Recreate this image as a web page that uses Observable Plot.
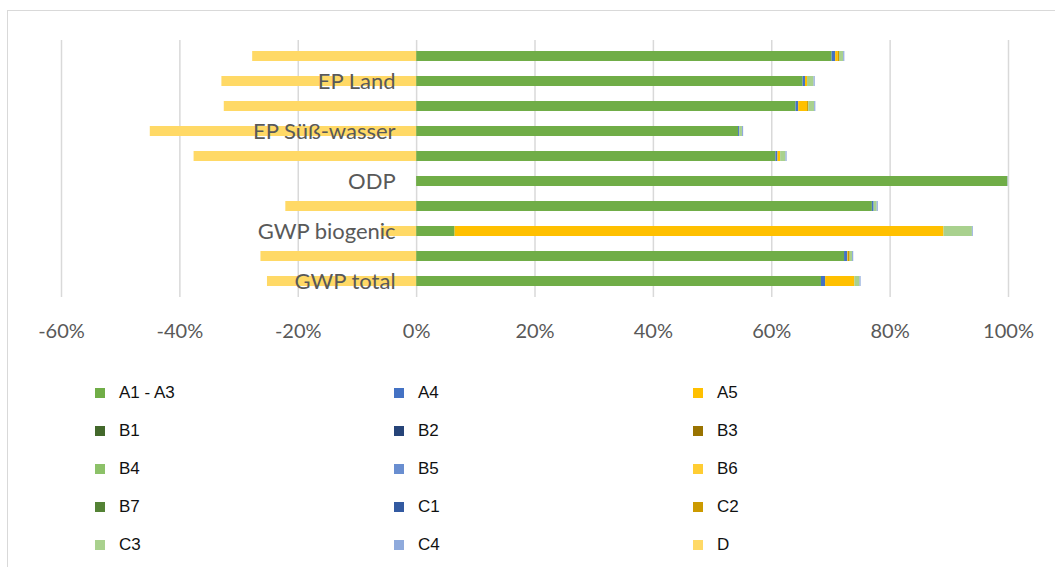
<!DOCTYPE html>
<html>
<head>
<meta charset="utf-8">
<script src="https://cdn.jsdelivr.net/npm/d3@7"></script>
<script src="https://cdn.jsdelivr.net/npm/@observablehq/plot@0.6"></script>
<style>
  html, body { margin: 0; padding: 0; background: #fff; }
  #wrap { position: relative; width: 1055px; height: 567px; overflow: hidden; }
  #frame { position: absolute; left: 7px; top: 10px; width: 1200px; height: 700px;
           border-left: 1.5px solid #d9d9d9; border-top: 1.5px solid #d9d9d9; pointer-events: none; }
  #chart { position: absolute; left: 0; top: 0; }
  #legend { position: absolute; left: 95px; top: 374px; display: grid;
            grid-template-columns: 299px 299px 299px; grid-auto-rows: 38px;
            font-family: "Liberation Sans", Arial, sans-serif; font-size: 17px; color: #111; }
  .item { display: flex; align-items: center; }
  .sw { width: 10px; height: 10px; margin-right: 14px; flex: none; }
</style>
</head>
<body>
<div id="wrap">
  <div id="frame"></div>
  <div id="chart"></div>
  <div id="legend"></div>
</div>
<script>
// Categories, top to bottom
const categories = ["POCP", "EP Land", "EP Meer", "EP Süß-wasser", "AP", "ODP", "GWP luluc", "GWP biogenic", "GWP fossil", "GWP total"];
// Labels visible on the chart (alternate labels hidden, as in the reference)
const categoryLabels = ["", "EP Land", "", "EP Süß-wasser", "", "ODP", "", "GWP biogenic", "", "GWP total"];

const seriesNames = ["A1 - A3", "A4", "A5", "B1", "B2", "B3", "B4", "B5", "B6", "B7", "C1", "C2", "C3", "C4", "D"];
const seriesColors = ["#70AD47", "#4472C4", "#FFC000", "#43682B", "#264478", "#997300", "#8CC168", "#698ED0", "#FFCD33", "#548235", "#335AA1", "#CC9A00", "#A9D18E", "#8FAADC", "#FFD966"];

// Values in percent, one per category (same order as categories)
const vA1A3 = [70.2, 65.3, 64.1, 54.4, 60.7, 99.9, 77.0, 6.5, 72.3, 68.4];
const vA4   = [0.6, 0.4, 0.45, 0.2, 0.35, 0, 0.3, 0, 0.55, 0.7];
const vA5   = [0.45, 0.35, 1.5, 0, 0.45, 0, 0, 82.6, 0.1, 4.9];
const vB1   = [0, 0, 0, 0, 0, 0, 0, 0, 0, 0];
const vB2   = [0, 0, 0, 0, 0, 0, 0, 0, 0, 0];
const vB3   = [0, 0, 0, 0, 0, 0, 0, 0, 0, 0];
const vB4   = [0, 0, 0, 0, 0, 0, 0, 0, 0, 0];
const vB5   = [0, 0, 0, 0, 0, 0, 0, 0, 0, 0];
const vB6   = [0, 0, 0, 0, 0, 0, 0, 0, 0, 0];
const vB7   = [0, 0, 0, 0, 0, 0, 0, 0, 0, 0];
const vC1   = [0, 0, 0, 0, 0, 0, 0, 0, 0, 0];
const vC2   = [0.2, 0, 0.2, 0, 0, 0, 0, 0, 0.3, 0.05];
const vC3   = [0.7, 1.1, 1.0, 0.45, 0.9, 0, 0.5, 4.8, 0.4, 0.85];
const vC4   = [0.2, 0.2, 0.2, 0.2, 0.2, 0.05, 0.2, 0.15, 0.2, 0.2];
const vD    = [-27.7, -32.9, -32.5, -45.0, -37.6, 0, -22.1, -6.0, -26.3, -25.2];

const xTicks = [-60, -40, -20, 0, 20, 40, 60, 80, 100];

const seriesValues = [vA1A3, vA4, vA5, vB1, vB2, vB3, vB4, vB5, vB6, vB7, vC1, vC2, vC3, vC4, vD];
const rows = [];
seriesNames.forEach((s, i) => {
  categories.forEach((c, j) => {
    const v = seriesValues[i][j];
    if (v !== 0) rows.push({category: c, series: s, value: v});
  });
});
const labelRows = categories.map((c, j) => ({category: c, label: categoryLabels[j]})).filter(d => d.label);

const chart = Plot.plot({
  width: 1055,
  height: 350,
  marginTop: 40,
  marginBottom: 53,
  marginLeft: 61,
  marginRight: 47,
  style: {fontFamily: "Lato, 'Open Sans', sans-serif", fontSize: "20px", color: "#595959", background: "transparent"},
  x: {domain: [-60, 100], label: null},
  y: {domain: categories, paddingInner: 0.6, paddingOuter: 0.3, axis: null, label: null},
  color: {domain: seriesNames, range: seriesColors},
  marks: [
    Plot.gridX(xTicks, {stroke: "#d9d9d9", strokeOpacity: 1, strokeWidth: 1.5}),
    Plot.barX(rows, {x: "value", y: "category", fill: "series"}),
    Plot.text(labelRows, {x: 0, y: "category", text: "label", dx: -21, textAnchor: "end",
      fontSize: 22, fill: "#595959", fontFamily: "Lato, 'Open Sans', sans-serif"}),
    Plot.axisX(xTicks, {tickSize: 0, tickPadding: 26, tickFormat: d => d + "%", fontSize: 20, label: null})
  ]
});
document.getElementById("chart").appendChild(chart);

const legend = document.getElementById("legend");
seriesNames.forEach((s, i) => {
  const item = document.createElement("div");
  item.className = "item";
  const sw = document.createElement("span");
  sw.className = "sw";
  sw.style.background = seriesColors[i];
  const t = document.createElement("span");
  t.textContent = s;
  item.appendChild(sw);
  item.appendChild(t);
  legend.appendChild(item);
});
</script>
</body>
</html>
